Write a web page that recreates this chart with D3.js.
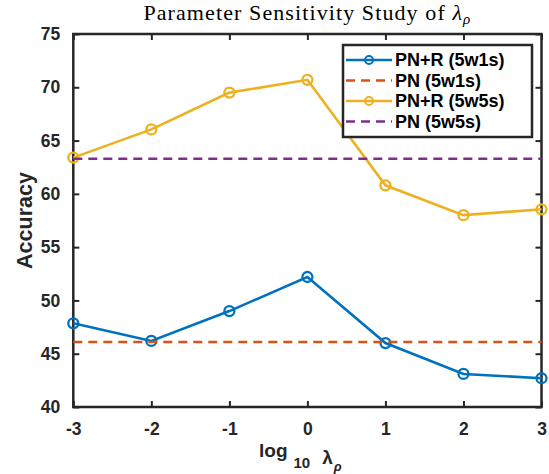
<!DOCTYPE html>
<html>
<head>
<meta charset="utf-8">
<script src="https://cdn.jsdelivr.net/npm/d3@7"></script>
<style>
  body { margin: 0; background: #fff; }
  svg { display: block; }
  .tick text { font-family: "Liberation Sans", Arial, sans-serif; font-weight: bold; font-size: 17.5px; fill: #262626; }
</style>
</head>
<body>
<div id="chart"></div>
<script>
// data
const logLambda = [-3, -2, -1, 0, 1, 2, 3];
const pnr5w1s = [47.85, 46.2, 49.0, 52.2, 46.0, 43.1, 42.7];
const pn5w1s = 46.1;
const pnr5w5s = [63.4, 66.05, 69.5, 70.7, 60.8, 58.0, 58.55];
const pn5w5s = 63.3;
const yTicks = [40, 45, 50, 55, 60, 65, 70, 75];
const legendLabels = ['PN+R (5w1s)', 'PN (5w1s)', 'PN+R (5w5s)', 'PN (5w5s)'];

const W = 549, H = 474;
const axisColor = '#262626';

const svg = d3.select('#chart').append('svg')
  .attr('width', W)
  .attr('height', H);

const x = d3.scaleLinear().domain([-3, 3]).range([73.3, 541.5]);
const y = d3.scaleLinear().domain([40, 75]).range([407, 34]);

// axes, ticks pointing inward
const xAxis = svg.append('g')
  .attr('transform', `translate(0,${y(40)})`)
  .call(d3.axisBottom(x).tickValues(logLambda).tickSize(-6).tickPadding(16).tickFormat(d3.format('d')));
const yAxis = svg.append('g')
  .attr('transform', `translate(${x(-3)},0)`)
  .call(d3.axisLeft(y).tickValues(yTicks).tickSize(-6).tickPadding(13));
const topAxis = svg.append('g')
  .attr('transform', `translate(0,${y(75)})`)
  .call(d3.axisTop(x).tickValues(logLambda).tickSize(-6).tickFormat(''));
const rightAxis = svg.append('g')
  .attr('transform', `translate(${x(3)},0)`)
  .call(d3.axisRight(y).tickValues(yTicks).tickSize(-6).tickFormat(''));

[xAxis, yAxis, topAxis, rightAxis].forEach(g => {
  g.select('.domain').remove();
  g.selectAll('.tick line').attr('stroke', axisColor).attr('stroke-width', 2);
});
xAxis.selectAll('.tick text').text(d => d < 0 ? '-' + Math.abs(d) : d);

// box
svg.append('rect')
  .attr('x', x(-3)).attr('y', y(75))
  .attr('width', x(3) - x(-3)).attr('height', y(40) - y(75))
  .attr('fill', 'none')
  .attr('stroke', axisColor)
  .attr('stroke-width', 2.5);

const series = [
  { name: legendLabels[0], values: pnr5w1s, color: '#0072BD', dashed: false },
  { name: legendLabels[1], values: logLambda.map(() => pn5w1s), color: '#D95319', dashed: true },
  { name: legendLabels[2], values: pnr5w5s, color: '#EDB120', dashed: false },
  { name: legendLabels[3], values: logLambda.map(() => pn5w5s), color: '#7E2F8E', dashed: true }
];

const line = d3.line()
  .x((d, i) => x(logLambda[i]))
  .y(d => y(d));

series.forEach(s => {
  svg.append('path')
    .datum(s.values)
    .attr('d', line)
    .attr('fill', 'none')
    .attr('stroke', s.color)
    .attr('stroke-width', 2.6)
    .attr('stroke-dasharray', s.dashed ? '9,6' : null);
  if (!s.dashed) {
    svg.selectAll(null)
      .data(s.values)
      .enter()
      .append('circle')
      .attr('cx', (d, i) => x(logLambda[i]))
      .attr('cy', d => y(d))
      .attr('r', 5)
      .attr('fill', 'none')
      .attr('stroke', s.color)
      .attr('stroke-width', 2.3);
  }
});

// legend
const legend = svg.append('g');
legend.append('rect')
  .attr('x', 343).attr('y', 45)
  .attr('width', 189).attr('height', 92)
  .attr('fill', '#fff')
  .attr('stroke', axisColor)
  .attr('stroke-width', 2.5);

series.forEach((s, i) => {
  const ly = 60 + i * 20.5;
  legend.append('line')
    .attr('x1', 346).attr('x2', 392)
    .attr('y1', ly).attr('y2', ly)
    .attr('stroke', s.color)
    .attr('stroke-width', 2.6)
    .attr('stroke-dasharray', s.dashed ? '9,6' : null);
  if (!s.dashed) {
    legend.append('circle')
      .attr('cx', 369).attr('cy', ly).attr('r', 4)
      .attr('fill', 'none')
      .attr('stroke', s.color)
      .attr('stroke-width', 2);
  }
  legend.append('text')
    .attr('x', 395).attr('y', ly)
    .attr('dy', '0.36em')
    .style('font-family', '"Liberation Sans", Arial, sans-serif')
    .style('font-weight', 'bold')
    .style('font-size', '18px')
    .attr('fill', '#000')
    .text(s.name);
});

// title
const title = svg.append('text')
  .attr('x', (x(-3) + x(3)) / 2)
  .attr('y', 20)
  .attr('text-anchor', 'middle')
  .style('font-family', '"Liberation Serif", "Times New Roman", serif')
  .style('font-size', '22px')
  .style('letter-spacing', '1.1px')
  .attr('fill', '#000');
title.append('tspan').text('Parameter Sensitivity Study of ');
title.append('tspan').style('font-style', 'italic').text('λ');
title.append('tspan').attr('dy', 4).style('font-size', '15px').style('font-style', 'italic').text('ρ');

// y label
svg.append('text')
  .attr('transform', `translate(32,${(y(40) + y(75)) / 2}) rotate(-90)`)
  .attr('text-anchor', 'middle')
  .style('font-family', '"Liberation Sans", Arial, sans-serif')
  .style('font-weight', 'bold')
  .style('font-size', '21.5px')
  .attr('fill', '#262626')
  .text('Accuracy');

// x label
const xl = svg.append('text')
  .attr('x', 259)
  .attr('y', 457)
  .style('font-family', '"Liberation Sans", Arial, sans-serif')
  .style('font-weight', 'bold')
  .style('font-size', '19px')
  .attr('fill', '#262626');
xl.append('tspan').text('log');
xl.append('tspan').attr('dx', 6).attr('dy', 11).style('font-size', '15px').text('10');
xl.append('tspan').attr('dx', 12).attr('dy', -4).text('λ');
xl.append('tspan').attr('dx', 1).attr('dy', 7).style('font-size', '13px').style('font-style', 'italic').text('ρ');
</script>
</body>
</html>
